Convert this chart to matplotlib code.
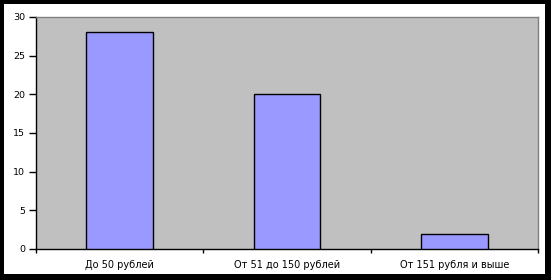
import matplotlib
matplotlib.use("Agg")
import matplotlib.pyplot as plt
from matplotlib.patches import Rectangle
from matplotlib.ticker import FixedLocator

plt.rcParams["font.family"] = ["DejaVu Sans"]

categories = ["До 50 рублей", "От 51 до 150 рублей", "От 151 рубля и выше"]
values = [28, 20, 2]
yticks = [0, 5, 10, 15, 20, 25, 30]

W, H = 551, 280
fig = plt.figure(figsize=(W / 100, H / 100), dpi=100, facecolor="black")
# white chart area inside the black frame (drawn under the axes)
fig.patches.append(Rectangle((4 / W, 6 / H), 541 / W, 270 / H, transform=fig.transFigure,
                             facecolor="white", edgecolor="none", zorder=-10))

ax = fig.add_axes([36 / W, 31 / H, 502 / W, 232 / H])
ax.set_facecolor("#c0c0c0")
x = range(len(categories))
ax.bar(x, values, width=0.4, color="#9999ff", edgecolor="black", linewidth=1, zorder=3)

ax.set_xlim(-0.5, len(categories) - 0.5)
ax.set_ylim(0, 30)
ax.set_yticks(yticks)
ax.set_xticks(list(x))
ax.set_xticklabels(categories)
ax.xaxis.set_minor_locator(FixedLocator([-0.5, 0.5, 1.5, 2.5]))
ax.tick_params(axis="x", which="major", length=0, pad=8, labelsize=7)
ax.tick_params(axis="x", which="minor", length=3, width=1, direction="out")
ax.tick_params(axis="y", length=5, width=1, direction="out", pad=3, labelsize=6.8)

for s in ["left", "bottom"]:
    ax.spines[s].set_color("black")
    ax.spines[s].set_linewidth(1)
for s in ["top", "right"]:
    ax.spines[s].set_color("#808080")
    ax.spines[s].set_linewidth(1)

fig.savefig("out.png", dpi=100, facecolor="black")
